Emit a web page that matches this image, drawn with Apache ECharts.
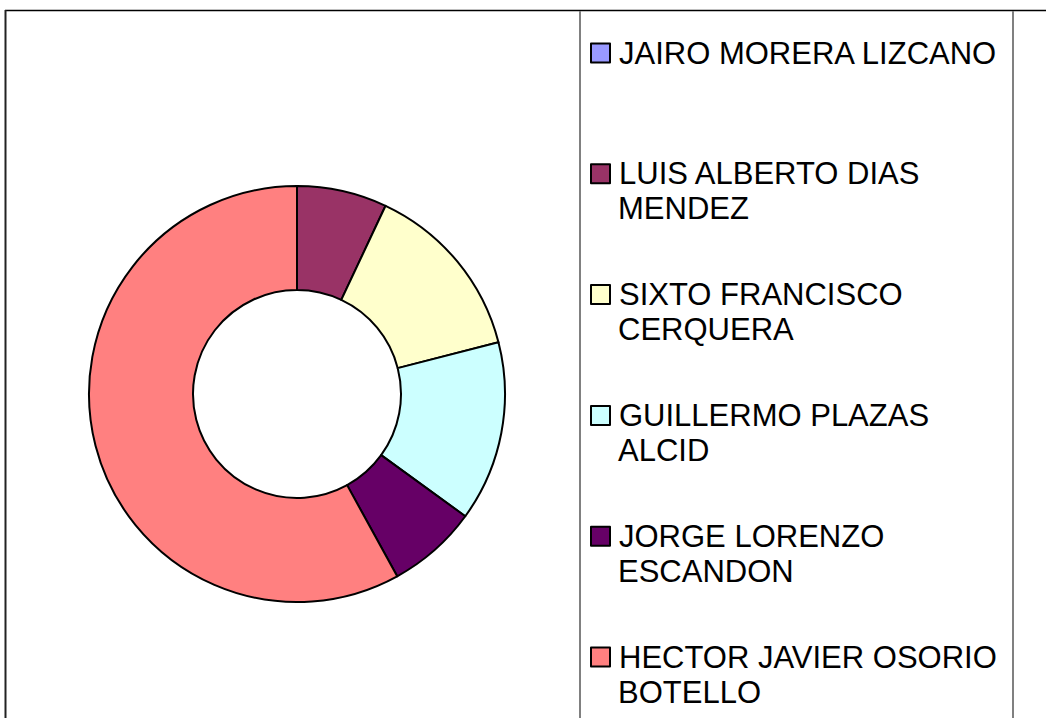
<!DOCTYPE html>
<html>
<head>
<meta charset="utf-8">
<script src="https://cdn.jsdelivr.net/npm/echarts@6/dist/echarts.min.js"></script>
<style>
  html, body { margin: 0; padding: 0; background: #fff; }
  #chart { width: 1046px; height: 718px; }
</style>
</head>
<body>
<div id="chart"></div>
<script>
// Candidates and their share of the vote
const names = [
  'JAIRO MORERA LIZCANO',
  'LUIS ALBERTO DIAS MENDEZ',
  'SIXTO FRANCISCO CERQUERA',
  'GUILLERMO PLAZAS ALCID',
  'JORGE LORENZO ESCANDON',
  'HECTOR JAVIER OSORIO BOTELLO'
];
// How each legend entry wraps
const legendFirstLines = [
  'JAIRO MORERA LIZCANO',
  'LUIS ALBERTO DIAS',
  'SIXTO FRANCISCO',
  'GUILLERMO PLAZAS',
  'JORGE LORENZO',
  'HECTOR JAVIER OSORIO'
];
const legendSecondLines = ['', 'MENDEZ', 'CERQUERA', 'ALCID', 'ESCANDON', 'BOTELLO'];
const values = [0, 7, 14, 14, 7, 58];
const colors = ['#9999FF', '#993366', '#FFFFCC', '#CCFFFF', '#660066', '#FF8080'];

const chart = echarts.init(document.getElementById('chart'), null, { renderer: 'svg' });

const FONT = 'Liberation Sans, Arial, sans-serif';
const FONT_SIZE = 31;
const LINE_H = 35;
const FIRST_ROW = 53;   // vertical centre of the first legend swatch
const ROW_STEP = 120.8; // spacing between legend entries
const TEXT_X = 618;

// One legend block per entry; a wrapped name continues on a second text line
const legends = names.map((n, i) => ({
  orient: 'vertical',
  left: 590,
  top: FIRST_ROW + i * ROW_STEP - LINE_H / 2,
  padding: 0,
  icon: 'rect',
  itemWidth: 19,
  itemHeight: 19,
  itemGap: 0,
  selectedMode: false,
  data: [n],
  formatter: () => legendFirstLines[i],
  textStyle: {
    fontFamily: FONT,
    fontSize: FONT_SIZE,
    lineHeight: LINE_H,
    color: '#000',
    padding: [0, 0, 0, 4]
  }
}));

const secondLineTexts = legendSecondLines
  .map((t, i) => ({ t, i }))
  .filter(d => d.t)
  .map(d => ({
    type: 'text',
    left: TEXT_X,
    top: FIRST_ROW + d.i * ROW_STEP + LINE_H - LINE_H / 2,
    silent: true,
    style: {
      text: d.t,
      fontFamily: FONT,
      fontSize: FONT_SIZE,
      lineHeight: LINE_H,
      fill: '#000'
    }
  }));

chart.setOption({
  animation: false,
  color: colors,
  legend: legends,
  graphic: [
    { type: 'line', shape: { x1: 5, y1: 10.5, x2: 1046, y2: 10.5 }, style: { stroke: '#000', lineWidth: 1.5 }, silent: true },
    { type: 'line', shape: { x1: 5.5, y1: 10, x2: 5.5, y2: 718 }, style: { stroke: '#222', lineWidth: 2 }, silent: true },
    { type: 'line', shape: { x1: 580, y1: 11, x2: 580, y2: 718 }, style: { stroke: '#808080', lineWidth: 2 }, silent: true },
    { type: 'line', shape: { x1: 1013, y1: 11, x2: 1013, y2: 718 }, style: { stroke: '#808080', lineWidth: 2 }, silent: true }
  ].concat(secondLineTexts),
  series: [{
    type: 'pie',
    center: [297, 394],
    radius: [104, 208],
    startAngle: 90,
    clockwise: true,
    label: { show: false },
    labelLine: { show: false },
    emphasis: { disabled: true },
    itemStyle: { borderColor: '#000', borderWidth: 2 },
    data: names.map((n, i) => ({ name: n, value: values[i] }))
  }]
});
</script>
</body>
</html>
